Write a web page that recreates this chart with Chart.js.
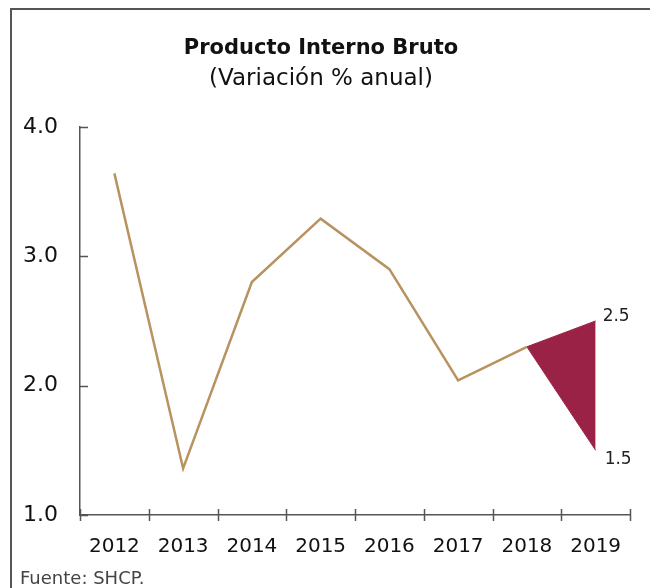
<!DOCTYPE html>
<html>
<head>
<meta charset="utf-8">
<script src="https://cdn.jsdelivr.net/npm/chart.js@4.4.0/dist/chart.umd.min.js"></script>
<style>
  html, body { margin: 0; padding: 0; background: #fff; overflow: hidden; }
  #wrap { position: relative; width: 650px; height: 588px; overflow: hidden; }
  .ln { position: absolute; background: #555; }
  #c { position: absolute; left: 0; top: 0; }
  #src { position: absolute; left: 20px; top: 567px; font-family: "DejaVu Sans", sans-serif;
         font-size: 18px; color: #444; }
</style>
</head>
<body>
<div id="wrap">
  <div class="ln" style="left:10px; top:8px; width:640px; height:2px;"></div>
  <div class="ln" style="left:10px; top:8px; width:2px; height:580px;"></div>
  <canvas id="c" width="650" height="588"></canvas>
  <div id="src">Fuente: SHCP.</div>
</div>
<script>
const categories = ["2012", "2013", "2014", "2015", "2016", "2017", "2018", "2019"];
const pibValues = [3.64, 1.36, 2.8, 3.29, 2.9, 2.04, 2.3, null];
const rangeUpper = [null, null, null, null, null, null, 2.3, 2.5];
const rangeLower = [null, null, null, null, null, null, 2.3, 1.5];
const yTicks = [1.0, 2.0, 3.0, 4.0];
const rangeLabels = ["2.5", "1.5"];

const FONT = '"DejaVu Sans", sans-serif';
const AXIS = '#555';
const TAN = '#B8925F';
const MAROON = '#9B2247';

const tickPlugin = {
  id: 'customTicks',
  afterDraw(chart) {
    const ctx = chart.ctx;
    const xs = chart.scales.x, ys = chart.scales.y;
    ctx.save();
    ctx.strokeStyle = AXIS;
    ctx.lineWidth = 1.5;
    yTicks.forEach(v => {
      const py = Math.round(ys.getPixelForValue(v)) + 0.5;
      ctx.beginPath();
      ctx.moveTo(xs.left, py);
      ctx.lineTo(xs.left + 8, py);
      ctx.stroke();
    });
    const step = xs.getPixelForValue(1) - xs.getPixelForValue(0);
    for (let i = 0; i <= categories.length; i++) {
      const px = Math.round(xs.getPixelForValue(0) - step / 2 + i * step) + 0.5;
      const py = ys.bottom;
      ctx.beginPath();
      ctx.moveTo(px, py - 6);
      ctx.lineTo(px, py + 6);
      ctx.stroke();
    }
    ctx.fillStyle = '#222';
    ctx.font = '17px ' + FONT;
    ctx.textAlign = 'left';
    ctx.textBaseline = 'middle';
    const last = categories.length - 1;
    const lx = xs.getPixelForValue(last) + 7;
    ctx.fillText(rangeLabels[0], lx, ys.getPixelForValue(rangeUpper[last]) - 4);
    ctx.fillText(rangeLabels[1], lx + 2, ys.getPixelForValue(rangeLower[last]) + 9);
    ctx.restore();
  }
};

new Chart(document.getElementById('c'), {
  type: 'line',
  data: {
    labels: categories,
    datasets: [
      { data: pibValues, borderColor: TAN, borderWidth: 2.5, pointRadius: 0, fill: false, tension: 0 },
      { data: rangeUpper, borderColor: MAROON, borderWidth: 1, pointRadius: 0, fill: false, tension: 0 },
      { data: rangeLower, borderColor: MAROON, borderWidth: 1, pointRadius: 0, fill: '-1',
        backgroundColor: MAROON, tension: 0 }
    ]
  },
  options: {
    responsive: false,
    animation: false,
    layout: { padding: { left: 12, right: 20, top: 0, bottom: 0 } },
    plugins: {
      legend: { display: false },
      tooltip: { enabled: false },
      title: { display: true, text: 'Producto Interno Bruto', color: '#111',
               font: { family: FONT, size: 21, weight: 'bold' }, padding: { top: 36, bottom: 4 } },
      subtitle: { display: true, text: '(Variación % anual)', color: '#111',
               font: { family: FONT, size: 23, weight: 'normal' }, padding: { top: 0, bottom: 34 } }
    },
    scales: {
      x: {
        offset: true,
        grid: { display: false, offset: true },
        border: { display: true, color: AXIS, width: 1.5 },
        ticks: { color: '#111', font: { family: FONT, size: 20 }, padding: 12, maxRotation: 0, autoSkip: false },
        afterFit(scale) { scale.height = 73; }
      },
      y: {
        min: 1, max: 4,
        grid: { display: false },
        border: { display: true, color: AXIS, width: 1.5 },
        ticks: { stepSize: 1, color: '#111', font: { family: FONT, size: 22 }, padding: 14,
                 callback: v => Number(v).toFixed(1) },
        afterFit(scale) { scale.width = 68; }
      }
    }
  },
  plugins: [tickPlugin]
});
</script>
</body>
</html>
